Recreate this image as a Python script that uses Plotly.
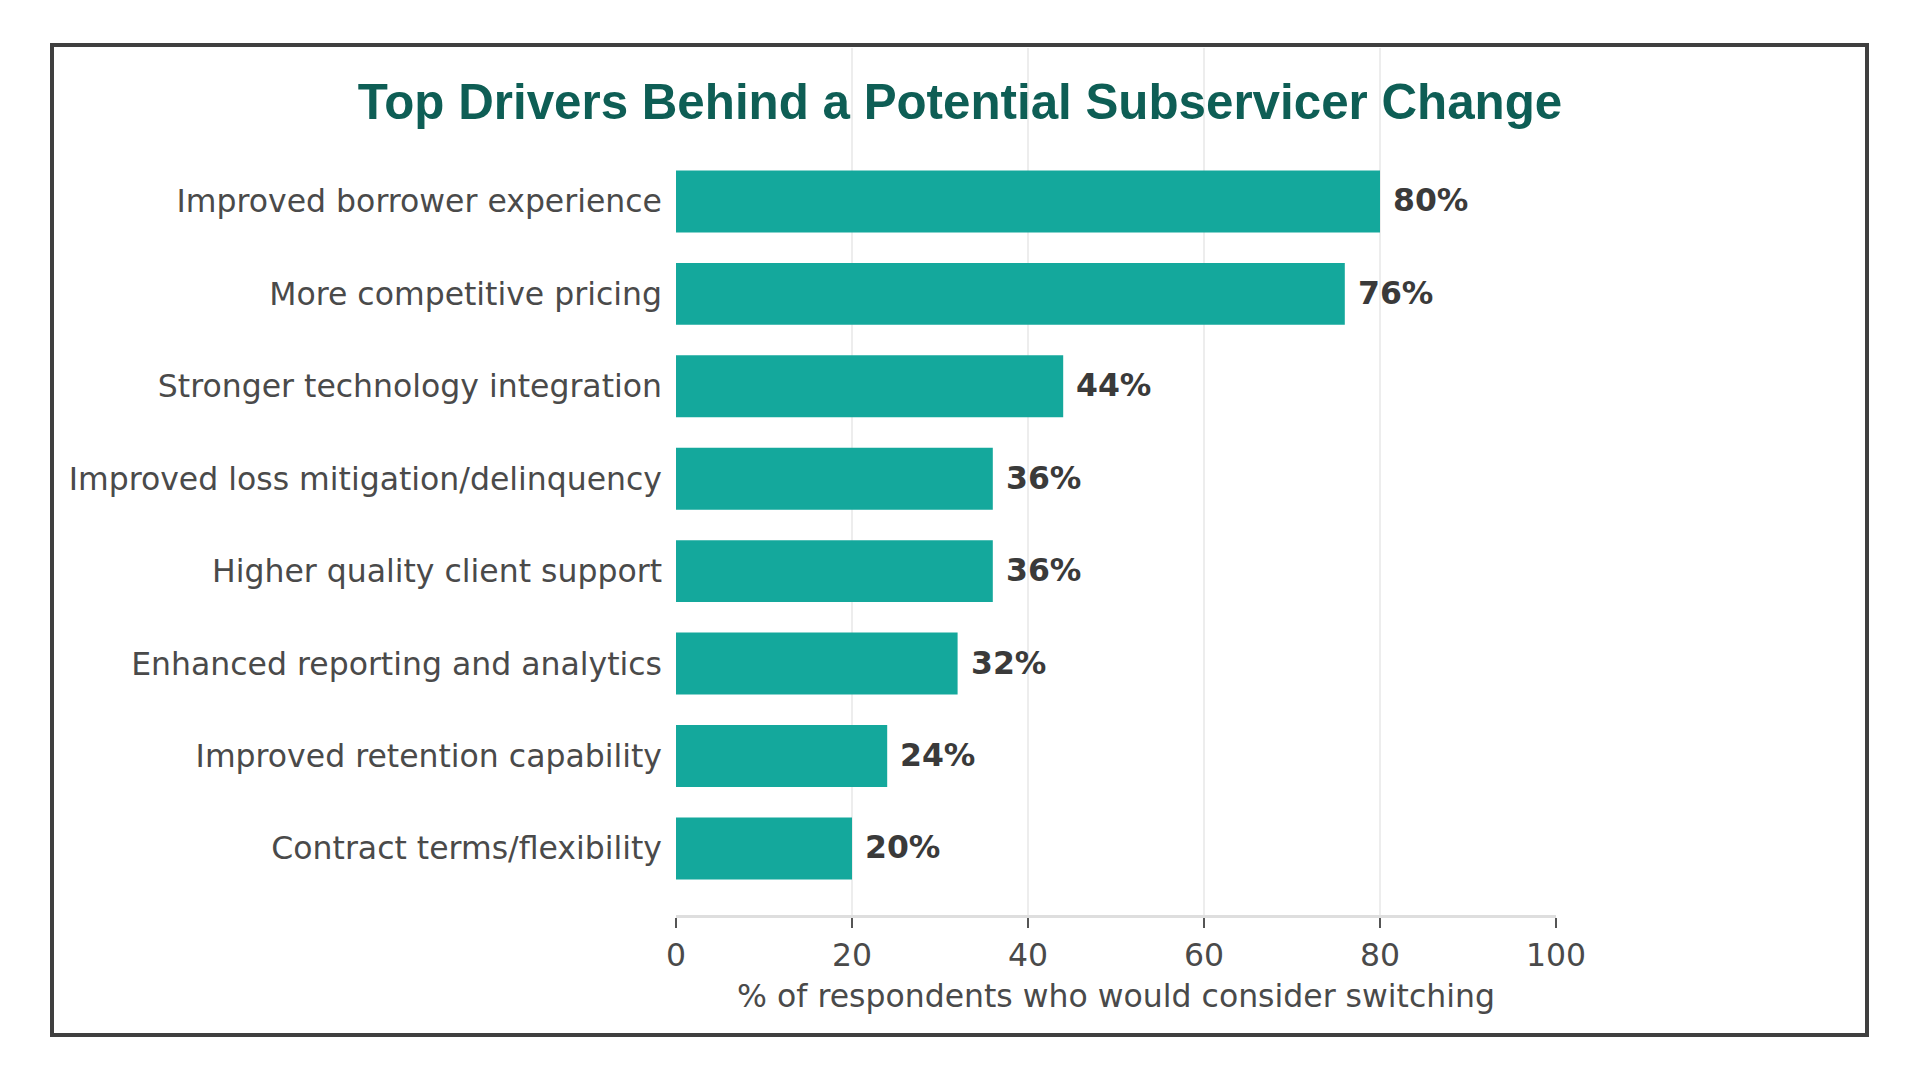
import plotly.graph_objects as go

# dados
drivers = [
    "Improved borrower experience",
    "More competitive pricing",
    "Stronger technology integration",
    "Improved loss mitigation/delinquency",
    "Higher quality client support",
    "Enhanced reporting and analytics",
    "Improved retention capability",
    "Contract terms/flexibility",
]
pct = [80, 76, 44, 36, 36, 32, 24, 20]
x_ticks = [0, 20, 40, 60, 80, 100]

TEAL = "#14a89c"
TITLE_COLOR = "#0e5e55"
TEXT = "#4a4a4a"
FS = 31.5

# margens em pixels (figura 1920x1080; a página tem 8px de margem no body)
L, R, T, B = 668, 372, 40, 173
W, H = 1920, 1080
pw, ph = W - L - R, H - T - B

fig = go.Figure(go.Bar(
    x=pct,
    y=drivers,
    orientation="h",
    marker=dict(color=TEAL, line=dict(width=0)),
    hoverinfo="skip",
))

# rótulos de valor à direita de cada barra
for d, v in zip(drivers, pct):
    fig.add_annotation(
        x=v, y=d, text=f"{v}%", showarrow=False,
        xanchor="left", yanchor="middle", xshift=11, yshift=1,
        font=dict(family="DejaVu Sans", size=FS, color="#3a3a3a", weight="bold"),
    )

# moldura em volta de tudo
def px_x(p):
    return (p - L) / pw

def px_y(p):
    return (H - B - p) / ph

fig.add_shape(
    type="rect", xref="paper", yref="paper",
    x0=px_x(44), x1=px_x(1859), y0=px_y(1027), y1=px_y(37),
    line=dict(color="#3f3f3f", width=4), fillcolor="rgba(0,0,0,0)",
    layer="above",
)

fig.update_xaxes(
    range=[0, 100],
    tickvals=x_ticks,
    ticks="outside", ticklen=10, tickwidth=2, tickcolor="#555555",
    showline=True, linecolor="#dedede", linewidth=3,
    showgrid=True, gridcolor="#ededed", gridwidth=1.5,
    zeroline=False,
    tickfont=dict(family="DejaVu Sans", size=FS, color=TEXT),
    title=dict(text="% of respondents who would consider switching",
               font=dict(family="DejaVu Sans", size=FS, color=TEXT), standoff=14),
)

fig.update_yaxes(
    categoryorder="array", categoryarray=drivers,
    range=[7.72, -1.66],
    showgrid=False, zeroline=False, showline=False, ticks="",
    ticklabelstandoff=13,
    tickfont=dict(family="DejaVu Sans", size=FS, color=TEXT),
)

fig.update_layout(
    width=W, height=H,
    bargap=0.33,
    plot_bgcolor="white", paper_bgcolor="white",
    margin=dict(l=L, r=R, t=T, b=B, pad=0),
    showlegend=False,
    title=dict(
        text="Top Drivers Behind a Potential Subservicer Change",
        x=952 / W, xanchor="center", xref="container",
        y=1 - 94 / H, yanchor="middle", yref="container",
        font=dict(family="Liberation Sans, Arial", size=49.3, color=TITLE_COLOR, weight="bold"),
    ),
)

fig.write_html("out.html")
